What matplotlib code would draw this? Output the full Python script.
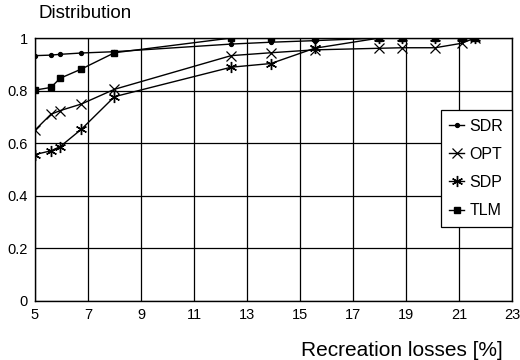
import matplotlib
matplotlib.use("Agg")
import matplotlib.pyplot as plt

plt.rcParams["font.family"] = ["Liberation Sans", "DejaVu Sans"]

# recreation losses [%] where the curves were evaluated
losses = [5.0, 5.6, 5.95, 6.75, 8.0, 12.4, 13.9, 15.55, 18.0, 18.85, 20.1, 21.1, 21.6]

sdr = [0.933, 0.935, 0.938, 0.943, 0.948, 0.977, 0.984, 0.99, 1.0, 1.0, 1.0, 1.0, 1.0]
opt = [0.65, 0.71, 0.724, 0.749, 0.805, 0.933, 0.944, 0.955, 0.961, 0.963, 0.963, 0.98, 1.0]
sdp = [0.557, 0.571, 0.587, 0.653, 0.777, 0.889, 0.903, 0.961, 1.0, 1.0, 1.0, 1.0, 1.0]
tlm = [0.802, 0.812, 0.847, 0.882, 0.944, 1.0, 1.0, 1.0, 1.0, 1.0, 1.0, 1.0, 1.0]

x_ticks = [5, 7, 9, 11, 13, 15, 17, 19, 21, 23]
y_ticks = [0, 0.2, 0.4, 0.6, 0.8, 1.0]
y_labels = ["0", "0.2", "0.4", "0.6", "0.8", "1"]

fig = plt.figure(figsize=(5.2, 3.6), dpi=100)
ax = fig.add_axes([0.0673, 0.1639, 0.9173, 0.7305])

ax.plot(losses, sdr, color="black", lw=1.0, marker="o", ms=2.8, label="SDR")
ax.plot(losses, opt, color="black", lw=1.0, marker="x", ms=7, mew=0.9, label="OPT")
ax.plot(losses, sdp, color="black", lw=1.0, marker=(6, 2, 0), ms=8, mew=1.0, label="SDP")
ax.plot(losses, tlm, color="black", lw=1.0, marker="s", ms=5, label="TLM")

ax.set_xlim(5, 23)
ax.set_ylim(0, 1)
ax.set_xticks(x_ticks)
ax.set_yticks(y_ticks)
ax.set_yticklabels(y_labels)
ax.tick_params(length=0, labelsize=10.5, pad=5)
ax.grid(True, color="black", lw=0.9)
ax.set_axisbelow(True)
for sp in ax.spines.values():
    sp.set_linewidth(1.0)

fig.text(38 / 520, 1 - 14 / 360, "Distribution", fontsize=13.5, ha="left", va="center")
fig.text(503 / 520, 1 - 350 / 360, "Recreation losses [%]", fontsize=15, ha="right", va="center")

# legend box sits against the right edge, between y ~0.27 and ~0.73
leg = ax.legend(loc="upper right", bbox_to_anchor=(1.0, 0.726), borderaxespad=0,
                fontsize=11.5, handlelength=0.9, handletextpad=0.35, labelspacing=0.82,
                borderpad=0.55, fancybox=False, framealpha=1, edgecolor="black")
leg.get_frame().set_linewidth(0.9)

fig.savefig("out.png", dpi=100)
plt.close(fig)
